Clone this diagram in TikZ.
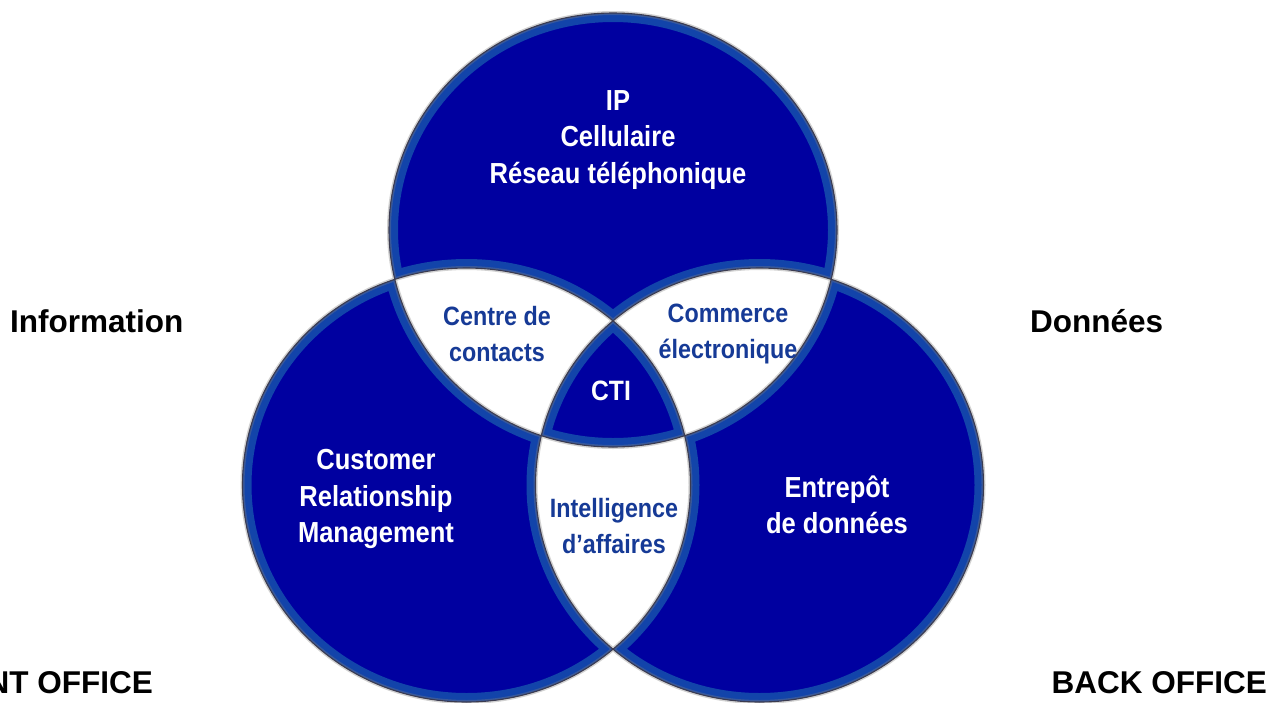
\documentclass[tikz,border=0pt]{standalone}
\usepackage{fontspec}
\setmainfont{Liberation Sans}
\newfontfamily\narrowsans[FakeStretch=0.88]{Liberation Sans}
\definecolor{vennnavy}{RGB}{0,0,160}
\definecolor{vennrim}{RGB}{18,68,170}
\definecolor{lensblue}{RGB}{22,58,150}
\definecolor{edgegray}{RGB}{60,60,80}
\begin{document}
\begin{tikzpicture}[x=1pt,y=-1pt,
  whitelbl/.style={text=white, font=\narrowsans\bfseries\fontsize{29}{36.5}\selectfont, align=center, inner sep=0pt},
  bluelbl/.style={text=lensblue, font=\narrowsans\bfseries\fontsize{26.5}{36}\selectfont, align=center, inner sep=0pt},
  sidelbl/.style={text=black, font=\bfseries\fontsize{31.5}{36}\selectfont, inner sep=0pt},
  rim/.style={draw=vennrim, line width=18pt},
  ringT/.style={insert path={(cT) ellipse [x radius=224pt, y radius=217pt]}},
  ringL/.style={insert path={(cL) ellipse [x radius=224pt, y radius=217pt]}},
  ringR/.style={insert path={(cR) ellipse [x radius=224pt, y radius=217pt]}},
]
\useasboundingbox (0,0) rectangle (1272,702);
\fill[white] (0,0) rectangle (1272,702);
\clip (0,0) rectangle (1272,702);

% centres of the three rings
\coordinate (cT) at (613,230);
\coordinate (cL) at (466.5,485);
\coordinate (cR) at (759.5,485);

% union of the rings, with a lighter rim along every edge
\begin{scope}
  \clip[ringT, ringL, ringR];
  \fill[vennnavy, ringT, ringL, ringR];
  \draw[rim, ringT, ringL, ringR];
\end{scope}

% pairwise overlaps become white
\begin{scope}
  \clip[ringT];
  \fill[white, ringL, ringR];
\end{scope}
\begin{scope}
  \clip[ringL];
  \fill[white, ringR];
\end{scope}

% the common centre is dark again
\begin{scope}
  \clip[ringT];
  \clip[ringL];
  \clip[ringR];
  \fill[vennnavy] (0,0) rectangle (1272,702);
  \draw[rim, ringT, ringL, ringR];
\end{scope}

% outlines
\draw[gray, opacity=0.35, line width=4pt, ringT, ringL, ringR];
\draw[edgegray, line width=1.1pt, ringT, ringL, ringR];

% labels inside the rings
\node[whitelbl] (net) at (618,140) {IP\\Cellulaire\\Réseau téléphonique};
\node[bluelbl] (cc) at (497,334) {Centre de\\contacts};
\node[bluelbl] (ec) at (728,334) {Commerce\\électronique};
\node[whitelbl, font=\narrowsans\bfseries\fontsize{28}{34}\selectfont] (cti) at (611,391) {CTI};
\node[whitelbl] (crm) at (376,499) {Customer\\Relationship\\Management};
\node[bluelbl] (bi) at (614,526) {Intelligence\\d’affaires};
\node[whitelbl] (dw) at (837,505) {Entrepôt\\de données};

% labels around the diagram
\node[sidelbl, anchor=base west] (info) at (10,332) {Information};
\node[sidelbl, anchor=base west] (data) at (1030,332) {Données};
\node[sidelbl, anchor=base east] (front) at (153,693) {FRONT OFFICE};
\node[sidelbl, anchor=base east] (back) at (1267,693) {BACK OFFICE};
\end{tikzpicture}
\end{document}
